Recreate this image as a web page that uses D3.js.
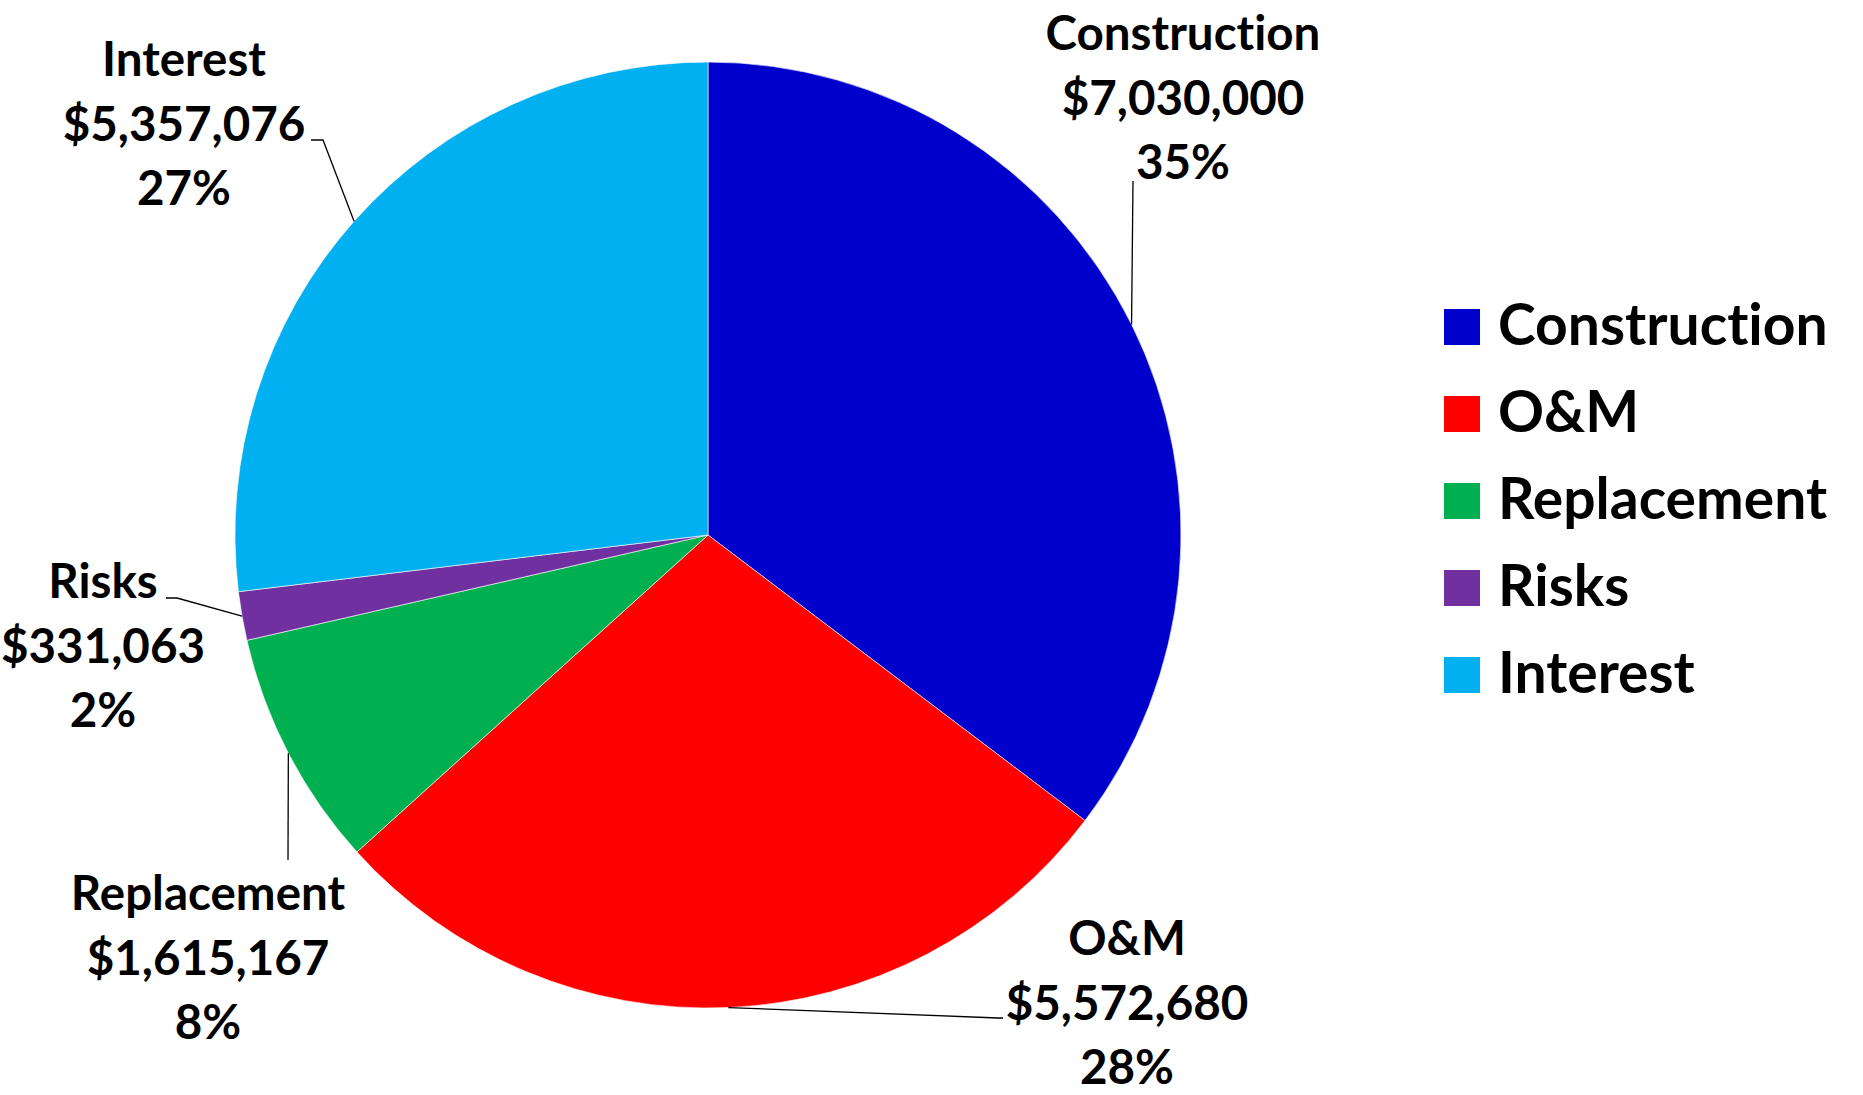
<!DOCTYPE html>
<html lang="en">
	<head>
		<meta charset="utf-8">
		<title>cost breakdown pie</title>
		<script src="https://d3js.org/d3.v7.min.js"></script>
		<style type="text/css">
			body { margin: 0; background: #fff; }
			text { font-family: Lato, "Open Sans", sans-serif; font-weight: bold; fill: #000;
				font-variant-ligatures: none; font-feature-settings: "liga" 0, "clig" 0; }
		</style>
	</head>

	<body>
		<script type="text/javascript">
			// window setup
			var w = 1863
			var h = 1095

			// data
			var categories = ["Construction", "O&M", "Replacement", "Risks", "Interest"]
			var costs = [7030000, 5572680, 1615167, 331063, 5357076]
			var sliceColors = ["#0000CC", "#FF0000", "#00B050", "#7030A0", "#00B0F0"]

			// label layout: centre x, first baseline y, leader elbow points (after the pie edge)
			var labelLayout = [
				{ x: 1183, y: 50, leader: [[1133, 181]] },
				{ x: 1127, y: 955, leader: [[998, 1018], [1003, 1018]] },
				{ x: 208, y: 910, leader: [[288, 860]] },
				{ x: 103, y: 598, leader: [[177, 598], [166, 598]] },
				{ x: 184, y: 76, leader: [[323, 140], [311, 140]] }
			]

			var cx = 708, cy = 535, r = 473
			var lineGap = 64.5

			var total = d3.sum(costs)
			var fmtMoney = d3.format("$,")
			var fmtPct = d3.format(".0%")

			var color = d3.scaleOrdinal().domain(categories).range(sliceColors)

			var svg = d3.select("body")
						.append("svg")
						.attr("width", w)
						.attr("height", h)

			var pie = d3.pie().sort(null).value(function(d) { return d.value })
			var arcs = pie(categories.map(function(c, i) { return { name: c, value: costs[i], i: i } }))

			var arc = d3.arc().innerRadius(0).outerRadius(r)

			var g = svg.append("g").attr("transform", "translate(" + cx + "," + cy + ")")

			g.selectAll("path")
				.data(arcs)
				.enter()
				.append("path")
				.attr("d", arc)
				.style("fill", function(d) { return color(d.data.name) })
				.style("stroke", "#fff")
				.style("stroke-width", 0.6)

			// leader lines, from slice edge midpoint
			var line = d3.line()
			svg.selectAll("path.leader")
				.data(arcs)
				.enter()
				.append("path")
				.attr("class", "leader")
				.attr("d", function(d, i) {
					var a = (d.startAngle + d.endAngle) / 2
					var p0 = [cx + r * Math.sin(a), cy - r * Math.cos(a)]
					return line([p0].concat(labelLayout[i].leader))
				})
				.style("fill", "none")
				.style("stroke", "#000")
				.style("stroke-width", 1.3)

			// data labels
			var labels = svg.selectAll("text.lbl")
							.data(arcs)
							.enter()
							.append("text")
							.attr("class", "lbl")
							.attr("text-anchor", "middle")
							.style("font-size", "47.5px")

			labels.each(function(d, i) {
				var t = d3.select(this)
				var L = labelLayout[i]
				var rows = [d.data.name, fmtMoney(d.data.value), fmtPct(d.data.value / total)]
				rows.forEach(function(s, k) {
					t.append("tspan").attr("x", L.x).attr("y", L.y + k * lineGap).text(s)
				})
			})

			// legend
			var legend = svg.append("g").attr("transform", "translate(1444,309)")
			var items = legend.selectAll("g")
							.data(categories)
							.enter()
							.append("g")
							.attr("transform", function(d, i) { return "translate(0," + i * 87 + ")" })

			items.append("rect")
				.attr("width", 36)
				.attr("height", 36)
				.style("fill", function(d) { return color(d) })

			items.append("text")
				.attr("x", 54)
				.attr("y", 36)
				.style("font-size", "57px")
				.text(function(d) { return d })
		</script>
	</body>
</html>
